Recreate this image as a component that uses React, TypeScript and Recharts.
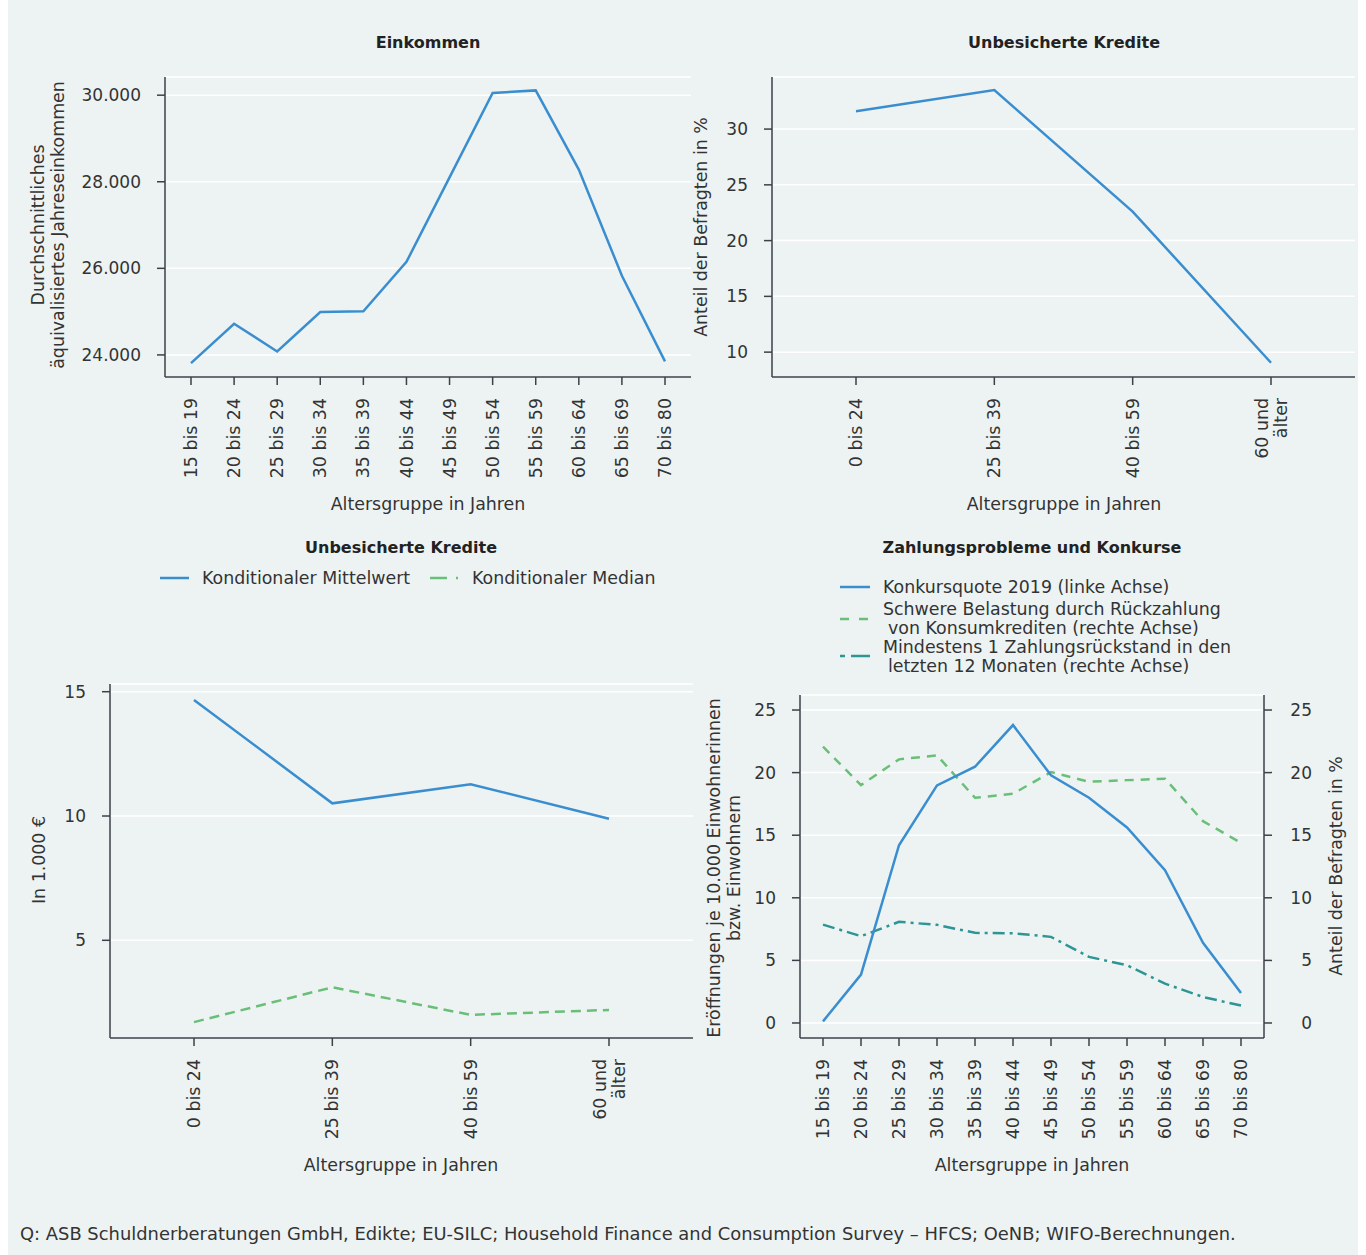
import { LineChart, Line, XAxis, YAxis, CartesianGrid } from 'recharts';

const ageGroups12 = [
  '15 bis 19', '20 bis 24', '25 bis 29', '30 bis 34', '35 bis 39', '40 bis 44',
  '45 bis 49', '50 bis 54', '55 bis 59', '60 bis 64', '65 bis 69', '70 bis 80',
];
const einkommen = [23810, 24720, 24080, 24990, 25010, 26150, 28100, 30050, 30110, 28280, 25830, 23850];

const ageGroups4 = ['0 bis 24', '25 bis 39', '40 bis 59', '60 und\nälter'];
const kreditAnteil = [31.6, 33.5, 22.6, 9.05];
const kondMittelwert = [14.67, 10.51, 11.28, 9.89];
const kondMedian = [1.71, 3.11, 2.0, 2.2];

const konkursquote = [0.13, 3.86, 14.2, 18.98, 20.47, 23.8, 19.78, 17.99, 15.62, 12.21, 6.4, 2.4];
const schwereBelastung = [22.07, 19.0, 21.06, 21.38, 17.99, 18.31, 20.04, 19.27, 19.4, 19.51, 16.12, 14.39];
const zahlungsrueckstand = [7.86, 6.93, 8.08, 7.84, 7.2, 7.17, 6.88, 5.28, 4.61, 3.14, 2.08, 1.39];

const FONT = '"DejaVu Sans", sans-serif';
const TEXT = '#333';
const AXIS = '#3b4049';
const BLUE = '#3a8ecf';
const GREEN = '#6abf78';
const TEAL = '#2e9494';
const BG = '#edf3f3';
const FS = 17.4;

const einkommenData = ageGroups12.map((g, i) => ({ g, v: einkommen[i] }));
const kreditData = ageGroups4.map((g, i) => ({ g, v: kreditAnteil[i] }));
const kondData = ageGroups4.map((g, i) => ({ g, mw: kondMittelwert[i], md: kondMedian[i] }));
const zahlData = ageGroups12.map((g, i) => ({
  g, k: konkursquote[i], s: schwereBelastung[i], z: zahlungsrueckstand[i],
}));

const thousands = (v: number) => String(v).replace(/\B(?=(\d{3})+(?!\d))/g, '.');

const tickStyle = { fontSize: 17, fill: TEXT, fontFamily: FONT };
const axisLine = { stroke: AXIS, strokeWidth: 1.5 };

const AgeTick = (props: any) => {
  const { x, y, payload } = props;
  const lines = String(payload.value).split('\n');
  return (
    <g transform={`translate(${x},${y})`}>
      <text transform="rotate(-90)" textAnchor="end" fontSize={FS} fill={TEXT} fontFamily={FONT}>
        {lines.map((l, i) => (
          <tspan key={i} x={0} dy={i === 0 ? `${0.35 - (lines.length - 1) * 0.55}em` : '1.1em'}>
            {l}
          </tspan>
        ))}
      </text>
    </g>
  );
};

const RightTick = (props: any) => {
  const { x, y, payload } = props;
  return (
    <text x={x + 32} y={y} dy="0.355em" textAnchor="end" fontSize={17} fill={TEXT} fontFamily={FONT}>
      {payload.value}
    </text>
  );
};

const xAxisProps = {
  dataKey: 'g',
  interval: 0 as const,
  tick: <AgeTick />,
  tickSize: 8,
  tickMargin: 13,
  axisLine,
  tickLine: axisLine,
};

const yAxisProps = {
  type: 'number' as const,
  allowDataOverflow: true,
  tick: tickStyle,
  tickSize: 8,
  tickMargin: 16,
  axisLine,
  tickLine: axisLine,
};

const Txt = ({ x, y, children, anchor = 'middle', bold = false, size = FS, rotate = false }: any) => (
  <text
    x={x}
    y={y}
    textAnchor={anchor}
    dominantBaseline="central"
    fontSize={bold ? 16 : size}
    fontWeight={bold ? 'bold' : 'normal'}
    fill={bold ? '#222' : TEXT}
    fontFamily={FONT}
    transform={rotate ? `rotate(-90 ${x} ${y})` : undefined}
  >
    {children}
  </text>
);

export default function App() {
  return (
    <div style={{ position: 'absolute', left: 0, top: 0, width: 1366, height: 1255, background: '#fff' }}>
      <div style={{ position: 'absolute', left: 8, top: 0, width: 1350, height: 1255, background: BG }} />

      <div style={{ position: 'absolute', left: 0, top: 0 }}>
        <LineChart width={700} height={520} data={einkommenData} margin={{ top: 77, right: 9, bottom: 0, left: 0 }}>
          <CartesianGrid vertical={false} stroke="#fff" strokeWidth={1.5} />
          <XAxis {...xAxisProps} height={143} padding={{ left: 26, right: 26 }} />
          <YAxis {...yAxisProps} width={165} domain={[23490, 30420]} ticks={[24000, 26000, 28000, 30000]} tickFormatter={thousands} />
          <Line type="linear" dataKey="v" stroke={BLUE} strokeWidth={2.5} dot={false} isAnimationActive={false} />
        </LineChart>
      </div>

      <div style={{ position: 'absolute', left: 700, top: 0 }}>
        <LineChart width={666} height={520} data={kreditData} margin={{ top: 77, right: 11, bottom: 0, left: 0 }}>
          <CartesianGrid vertical={false} stroke="#fff" strokeWidth={1.5} />
          <XAxis {...xAxisProps} height={143} padding={{ left: 84, right: 84 }} />
          <YAxis {...yAxisProps} width={72} domain={[7.77, 34.67]} ticks={[10, 15, 20, 25, 30]} />
          <Line type="linear" dataKey="v" stroke={BLUE} strokeWidth={2.5} dot={false} isAnimationActive={false} />
        </LineChart>
      </div>

      <div style={{ position: 'absolute', left: 0, top: 600 }}>
        <LineChart width={700} height={600} data={kondData} margin={{ top: 84, right: 7, bottom: 0, left: 0 }}>
          <CartesianGrid vertical={false} stroke="#fff" strokeWidth={1.5} />
          <XAxis {...xAxisProps} height={162} padding={{ left: 84, right: 84 }} />
          <YAxis {...yAxisProps} width={110} domain={[1.07, 15.31]} ticks={[5, 10, 15]} />
          <Line type="linear" dataKey="mw" stroke={BLUE} strokeWidth={2.5} dot={false} isAnimationActive={false} />
          <Line type="linear" dataKey="md" stroke={GREEN} strokeWidth={2.5} strokeDasharray="10 6" dot={false} isAnimationActive={false} />
        </LineChart>
      </div>

      <div style={{ position: 'absolute', left: 700, top: 600 }}>
        <LineChart width={666} height={600} data={zahlData} margin={{ top: 95, right: 0, bottom: 0, left: 0 }}>
          <CartesianGrid vertical={false} stroke="#fff" strokeWidth={1.5} yAxisId="left" />
          <XAxis {...xAxisProps} height={162} padding={{ left: 23, right: 23 }} />
          <YAxis {...yAxisProps} yAxisId="left" width={100} domain={[-1.2, 26.2]} ticks={[0, 5, 10, 15, 20, 25]} />
          <YAxis
            {...yAxisProps}
            yAxisId="right"
            orientation="right"
            width={102}
            domain={[-1.2, 26.2]}
            ticks={[0, 5, 10, 15, 20, 25]}
            tickMargin={8}
            tick={<RightTick />}
          />
          <Line yAxisId="right" type="linear" dataKey="s" stroke={GREEN} strokeWidth={2.5} strokeDasharray="9 7" dot={false} isAnimationActive={false} />
          <Line yAxisId="right" type="linear" dataKey="z" stroke={TEAL} strokeWidth={2.5} strokeDasharray="12 5 3 5" dot={false} isAnimationActive={false} />
          <Line yAxisId="left" type="linear" dataKey="k" stroke={BLUE} strokeWidth={2.5} dot={false} isAnimationActive={false} />
        </LineChart>
      </div>

      <svg width={1366} height={1255} style={{ position: 'absolute', left: 0, top: 0, pointerEvents: 'none' }}>
        <Txt x={428} y={42} bold>Einkommen</Txt>
        <Txt x={1064} y={42} bold>Unbesicherte Kredite</Txt>
        <Txt x={401} y={547} bold>Unbesicherte Kredite</Txt>
        <Txt x={1032} y={547} bold>Zahlungsprobleme und Konkurse</Txt>

        <Txt x={428} y={504}>Altersgruppe in Jahren</Txt>
        <Txt x={1064} y={504}>Altersgruppe in Jahren</Txt>
        <Txt x={401} y={1165}>Altersgruppe in Jahren</Txt>
        <Txt x={1032} y={1165}>Altersgruppe in Jahren</Txt>

        <Txt x={38} y={225} rotate>Durchschnittliches</Txt>
        <Txt x={58} y={225} rotate>äquivalisiertes Jahreseinkommen</Txt>
        <Txt x={701} y={227} rotate>Anteil der Befragten in %</Txt>
        <Txt x={39} y={860} rotate>In 1.000 €</Txt>
        <Txt x={714} y={868} rotate>Eröffnungen je 10.000 Einwohnerinnen</Txt>
        <Txt x={734} y={868} rotate>bzw. Einwohnern</Txt>
        <Txt x={1336} y={866} rotate>Anteil der Befragten in %</Txt>

        <line x1={160} y1={578} x2={189} y2={578} stroke={BLUE} strokeWidth={2.5} />
        <Txt x={202} y={578} anchor="start">Konditionaler Mittelwert</Txt>
        <line x1={430} y1={578} x2={460} y2={578} stroke={GREEN} strokeWidth={2.5} strokeDasharray="17 9 2 9" />
        <Txt x={472} y={578} anchor="start">Konditionaler Median</Txt>

        <line x1={840} y1={587} x2={870} y2={587} stroke={BLUE} strokeWidth={2.5} />
        <Txt x={883} y={587} anchor="start">Konkursquote 2019 (linke Achse)</Txt>
        <line x1={840} y1={619} x2={870} y2={619} stroke={GREEN} strokeWidth={2.5} strokeDasharray="9 10" />
        <Txt x={883} y={609} anchor="start">Schwere Belastung durch Rückzahlung</Txt>
        <Txt x={888} y={628} anchor="start">von Konsumkrediten (rechte Achse)</Txt>
        <line x1={840} y1={656} x2={870} y2={656} stroke={TEAL} strokeWidth={2.5} strokeDasharray="5 6 19" />
        <Txt x={883} y={647} anchor="start">Mindestens 1 Zahlungsrückstand in den</Txt>
        <Txt x={888} y={666} anchor="start">letzten 12 Monaten (rechte Achse)</Txt>

        <Txt x={20} y={1233} anchor="start" size={17.9}>
          Q: ASB Schuldnerberatungen GmbH, Edikte; EU-SILC; Household Finance and Consumption Survey – HFCS; OeNB; WIFO-Berechnungen.
        </Txt>
      </svg>
    </div>
  );
}
